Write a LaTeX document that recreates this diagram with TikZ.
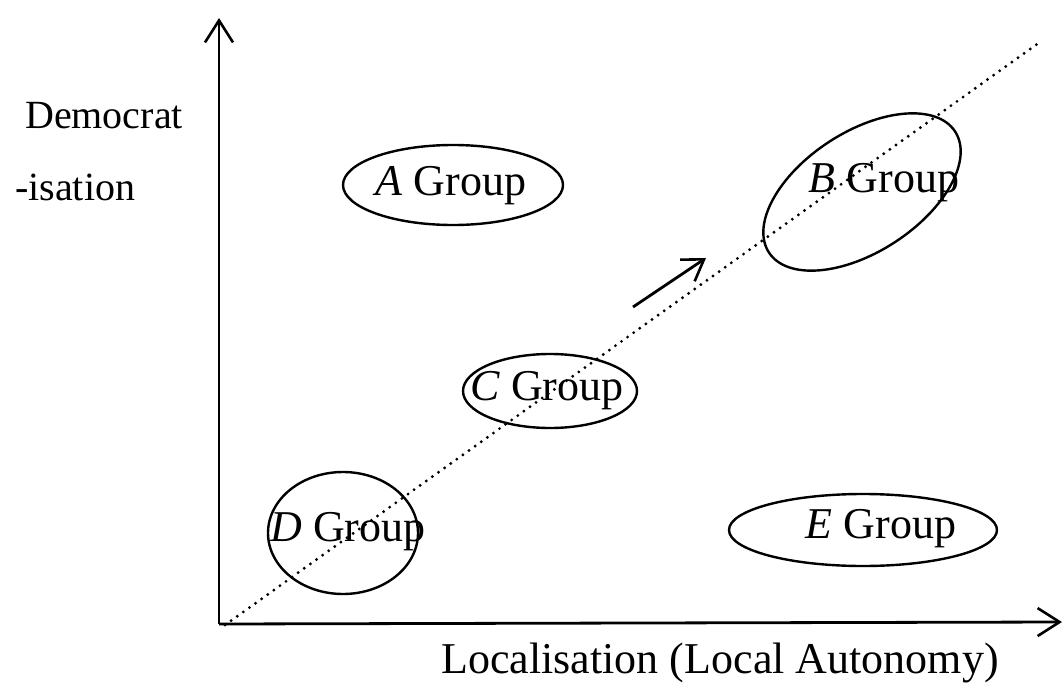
\documentclass[tikz,border=0pt]{standalone}
\usepackage{fontspec}
\setmainfont{Liberation Serif}
\usetikzlibrary{arrows.meta}
\begin{document}
\begin{tikzpicture}[x=1pt,y=-1pt,
  axis/.style={line width=2.8pt,-{Straight Barb[length=22pt,width=28pt,line width=2.6pt]}},
  grp/.style={draw,line width=2.4pt},
  lbl/.style={font=\fontsize{44}{52}\selectfont,inner sep=0pt},
  ttl/.style={font=\fontsize{40}{48}\selectfont,inner sep=0pt},
  diag/.style={line width=3.2pt,line cap=round,dash pattern=on 0pt off 7.5pt}]
\useasboundingbox (0,0) rectangle (1063,685);
% axes
\coordinate (O) at (219,624);
\coordinate (ytop) at (219,18);
\coordinate (xend) at (1062,622);
\draw[axis] (O) -- (ytop);
\draw[axis] (O) -- (xend);
% diagonal trend line
\coordinate (d0) at (225,625);
\coordinate (d1) at (1040,42);
\draw[diag] (d0) -- (d1);
% direction arrow
\coordinate (a0) at (633,307);
\coordinate (a1) at (706,258);
\draw[line width=2.8pt,-{Straight Barb[length=20pt,width=26pt,line width=2.6pt]}] (a0) -- (a1);
% groups
\draw[grp] (453,185) ellipse [x radius=110,y radius=40];
\node[lbl] (A) at (451,186) {\textit{A} Group};
\draw[grp] (862,192) ellipse [x radius=111,y radius=60,rotate=33];
\node[lbl] (B) at (884,183) {\textit{B} Group};
\draw[grp] (550,391) ellipse [x radius=87,y radius=37];
\node[lbl] (C) at (547,391) {\textit{C} Group};
\draw[grp] (343,533) ellipse [x radius=75,y radius=61];
\node[lbl] (D) at (348,532) {\textit{D} Group};
\draw[grp] (863,530) ellipse [x radius=134,y radius=36];
\node[lbl] (E) at (881,529) {\textit{E} Group};
% axis titles
\node[ttl,anchor=base west] (ylab1) at (25,128) {Democrat};
\node[ttl,anchor=base west] (ylab2) at (15,200) {-isation};
\node[lbl,anchor=base] (xlab) at (720,673) {Localisation (Local Autonomy)};
\end{tikzpicture}
\end{document}
